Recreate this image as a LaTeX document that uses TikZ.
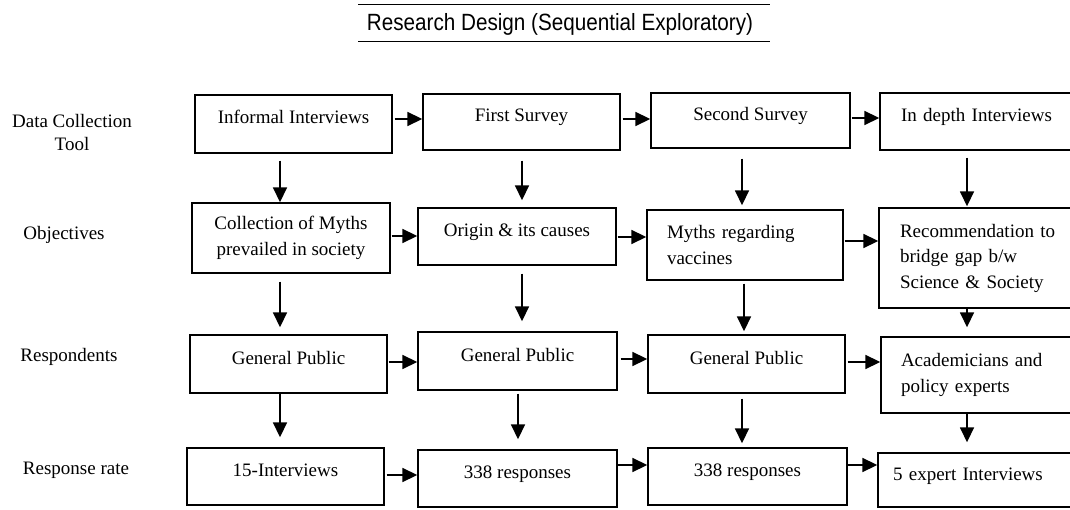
\documentclass[tikz,border=0pt]{standalone}
\usepackage{fontspec}
\setmainfont{Liberation Serif}
\newfontfamily\titlefont[FakeStretch=0.88]{Liberation Sans}
\usetikzlibrary{arrows.meta}
\begin{document}
\begin{tikzpicture}[x=1pt,y=-1pt,
  box/.style={draw, line width=1.4pt, inner sep=0pt, align=center,
    font=\fontsize{19}{25.5}\selectfont},
  one/.style={text height=12pt, text depth=12pt},
  lbox/.style={box, align=left, inner xsep=#1},
  arr/.style={line width=1.7pt, -{Triangle[length=15pt,width=14pt]}},
  lab/.style={align=center, font=\fontsize{19}{23}\selectfont},
  rule/.style={line width=1.8pt}]
\useasboundingbox (0,0) rectangle (1070,510);
\clip (0,0) rectangle (1070,510);

% title
\node[font=\titlefont\fontsize{23.5}{27}\selectfont] (title) at (560,24) {Research Design (Sequential Exploratory)};
\draw[rule] (358,4.5) -- (770,4.5);
\draw[rule] (358,41.5) -- (770,41.5);

% row labels
\node[lab] (l1) at (72,133) {Data Collection\\Tool};
\node[lab] (l2) at (64,235) {Objectives};
\node[lab] (l3) at (69,357) {Respondents};
\node[lab] (l4) at (76,470) {Response rate};

% row 1
\node[box,one,minimum width=197pt,minimum height=58pt] (a1) at (293.5,124) {Informal Interviews};
\node[box,one,minimum width=197pt,minimum height=56pt] (a2) at (521.5,122) {First Survey};
\node[box,one,minimum width=199pt,minimum height=55pt] (a3) at (750.5,120.5) {Second Survey};
\node[lbox=21pt,one,text width=178pt,minimum height=57pt] (a4) at (990,121.5) {In depth Interviews};

% row 2
\node[box,minimum width=198pt,minimum height=70pt] (b1) at (291,238) {Collection of Myths\\prevailed in society};
\node[box,one,minimum width=198pt,minimum height=57pt] (b2) at (517,236.5) {Origin \& its causes};
\node[lbox=20pt,text width=156pt,minimum height=70pt] (b3) at (745,245) {Myths regarding\\vaccines};
\node[lbox=21pt,text width=179pt,minimum height=100pt] (b4) at (989.5,258) {Recommendation to\\bridge gap b/w\\Science \& Society};

% row 3
\node[box,one,minimum width=197pt,minimum height=58pt] (c1) at (288.5,364) {General Public};
\node[box,one,minimum width=199pt,minimum height=58pt] (c2) at (517.5,361) {General Public};
\node[box,one,minimum width=197pt,minimum height=58pt] (c3) at (746.5,364) {General Public};
\node[lbox=20pt,text width=179pt,minimum height=76pt] (c4) at (990.5,375) {Academicians and\\policy experts};

% row 4
\node[box,one,minimum width=197pt,minimum height=57pt] (d1) at (285.5,476.5) {15-Interviews};
\node[box,one,minimum width=199pt,minimum height=57pt] (d2) at (517.5,478.5) {338 responses};
\node[box,one,minimum width=199pt,minimum height=57pt] (d3) at (747.5,476.5) {338 responses};
\node[lbox=15pt,one,text width=192pt,minimum height=54pt] (d4) at (989,480) {5 expert Interviews};

% column / row reference coordinates
\coordinate (xa) at (280,0);
\coordinate (xb) at (522,0);
\coordinate (xb2) at (518,0);
\coordinate (xc) at (742,0);
\coordinate (xc2) at (744,0);
\coordinate (xd) at (967,0);
\coordinate (y1) at (0,119);
\coordinate (y1b) at (0,118);
\coordinate (y2a) at (0,236);
\coordinate (y2b) at (0,237);
\coordinate (y2c) at (0,241);
\coordinate (y3a) at (0,362);
\coordinate (y3b) at (0,359);
\coordinate (y4a) at (0,475);
\coordinate (y4b) at (0,465);

% vertical arrows
\draw[arr, shorten <=7pt] (a1.south -| xa) -- (b1.north -| xa);
\draw[arr, shorten <=8pt, shorten >=7pt] (b1.south -| xa) -- (c1.north -| xa);
\draw[arr, shorten >=10pt] (c1.south -| xa) -- (d1.north -| xa);

\draw[arr, shorten <=10pt, shorten >=7pt] (a2.south -| xb) -- (b2.north -| xb);
\draw[arr, shorten <=8pt, shorten >=10pt] (b2.south -| xb) -- (c2.north -| xb);
\draw[arr, shorten <=3pt, shorten >=10pt] (c2.south -| xb2) -- (d2.north -| xb2);

\draw[arr, shorten <=10pt, shorten >=4pt] (a3.south -| xc) -- (b3.north -| xc);
\draw[arr, shorten <=3pt, shorten >=3pt] (b3.south -| xc2) -- (c3.north -| xc2);
\draw[arr, shorten <=5pt, shorten >=4pt] (c3.south -| xc) -- (d3.north -| xc);

\draw[arr, shorten <=7pt, shorten >=1pt] (a4.south -| xd) -- (b4.north -| xd);
\draw[arr, shorten >=9pt] (b4.south -| xd) -- (c4.north -| xd);
\draw[arr, shorten >=10pt] (c4.south -| xd) -- (d4.north -| xd);

% horizontal arrows
\draw[arr, shorten <=2pt] (a1.east |- y1) -- (a2.west |- y1);
\draw[arr, shorten <=2pt] (a2.east |- y1) -- (a3.west |- y1);
\draw[arr, shorten <=1pt] (a3.east |- y1b) -- (a4.west |- y1b);

\draw[arr, shorten <=1pt] (b1.east |- y2a) -- (b2.west |- y2a);
\draw[arr, shorten <=1pt] (b2.east |- y2b) -- (b3.west |- y2b);
\draw[arr, shorten <=1pt] (b3.east |- y2c) -- (b4.west |- y2c);

\draw[arr, shorten <=1pt] (c1.east |- y3a) -- (c2.west |- y3a);
\draw[arr, shorten <=3pt] (c2.east |- y3b) -- (c3.west |- y3b);
\draw[arr, shorten <=2pt] (c3.east |- y3a) -- (c4.west |- y3a);

\draw[arr, shorten <=2pt] (d1.east |- y4a) -- (d2.west |- y4a);
\draw[arr] (d2.east |- y4b) -- (d3.west |- y4b);
\draw[arr] (d3.east |- y4b) -- (d4.west |- y4b);
\end{tikzpicture}
\end{document}
